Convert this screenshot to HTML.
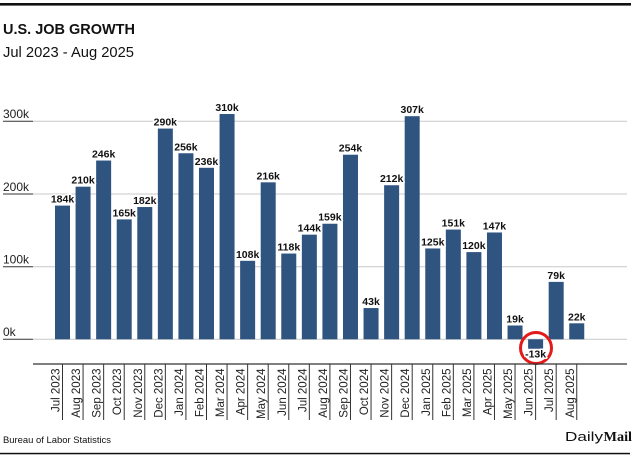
<!DOCTYPE html>
<html><head><meta charset="utf-8"><style>
html,body{margin:0;padding:0;background:#fff;}
svg{display:block;font-family:"Liberation Sans",Arial,sans-serif;}
.v{font-size:10.5px;font-weight:bold;fill:#111;stroke:#fff;stroke-width:3px;paint-order:stroke;stroke-linejoin:round;text-anchor:middle;}
.m{font-size:11.5px;fill:#222;text-anchor:end;}
.y{font-size:12px;fill:#222;}
</style></head><body>
<svg width="634" height="459" viewBox="0 0 634 459" xmlns="http://www.w3.org/2000/svg">
<rect x="0" y="0" width="634" height="459" fill="#fff"/>
<rect x="0" y="3" width="631" height="2.6" fill="#111"/>
<text x="3" y="34" font-size="15" font-weight="bold" fill="#111" textLength="132" lengthAdjust="spacingAndGlyphs">U.S. JOB GROWTH</text>
<text x="3" y="57" font-size="14.5" fill="#111" textLength="131" lengthAdjust="spacingAndGlyphs">Jul 2023 - Aug 2025</text>

<!-- gridlines -->
<g stroke="#c8c8c8" stroke-width="1">
<line x1="33" y1="121.3" x2="627" y2="121.3"/>
<line x1="33" y1="194" x2="627" y2="194"/>
<line x1="33" y1="266.7" x2="627" y2="266.7"/>
<line x1="33" y1="339.3" x2="627" y2="339.3"/>
</g>
<g stroke="#333" stroke-width="1">
<line x1="3" y1="121.3" x2="33" y2="121.3"/>
<line x1="3" y1="194" x2="33" y2="194"/>
<line x1="3" y1="266.7" x2="33" y2="266.7"/>
<line x1="3" y1="339.3" x2="33" y2="339.3"/>
</g>
<text class="y" x="3" y="118">300k</text>
<text class="y" x="3" y="191">200k</text>
<text class="y" x="3" y="263.5">100k</text>
<text class="y" x="3" y="336">0k</text>

<!-- bars -->
<g fill="#2f5480">
<rect x="55.00" y="205.59" width="15" height="133.71"/>
<rect x="75.57" y="186.69" width="15" height="152.61"/>
<rect x="96.14" y="160.53" width="15" height="178.77"/>
<rect x="116.71" y="219.39" width="15" height="119.91"/>
<rect x="137.28" y="207.04" width="15" height="132.26"/>
<rect x="157.85" y="128.56" width="15" height="210.74"/>
<rect x="178.42" y="153.26" width="15" height="186.04"/>
<rect x="198.99" y="167.80" width="15" height="171.50"/>
<rect x="219.56" y="114.02" width="15" height="225.28"/>
<rect x="240.13" y="260.82" width="15" height="78.48"/>
<rect x="260.70" y="182.33" width="15" height="156.97"/>
<rect x="281.27" y="253.55" width="15" height="85.75"/>
<rect x="301.84" y="234.66" width="15" height="104.64"/>
<rect x="322.41" y="223.75" width="15" height="115.55"/>
<rect x="342.98" y="154.72" width="15" height="184.58"/>
<rect x="363.55" y="308.05" width="15" height="31.25"/>
<rect x="384.12" y="185.24" width="15" height="154.06"/>
<rect x="404.69" y="116.20" width="15" height="223.10"/>
<rect x="425.26" y="248.46" width="15" height="90.84"/>
<rect x="445.83" y="229.57" width="15" height="109.73"/>
<rect x="466.40" y="252.10" width="15" height="87.20"/>
<rect x="486.97" y="232.48" width="15" height="106.82"/>
<rect x="507.54" y="325.49" width="15" height="13.81"/>
<rect x="528.11" y="339.30" width="15" height="9.45"/>
<rect x="548.68" y="281.89" width="15" height="57.41"/>
<rect x="569.25" y="323.31" width="15" height="15.99"/>
</g>

<!-- red circle -->
<circle cx="536" cy="348" r="15.5" fill="none" stroke="#e21b1b" stroke-width="3"/>

<!-- value labels -->
<g class="v">
<text x="62.50" y="202.6">184k</text>
<text x="83.07" y="183.7">210k</text>
<text x="103.64" y="157.5">246k</text>
<text x="124.21" y="216.4">165k</text>
<text x="144.78" y="204.0">182k</text>
<text x="165.35" y="125.6">290k</text>
<text x="185.92" y="150.3">256k</text>
<text x="206.49" y="164.8">236k</text>
<text x="227.06" y="111.0">310k</text>
<text x="247.63" y="257.8">108k</text>
<text x="268.20" y="179.3">216k</text>
<text x="288.77" y="250.5">118k</text>
<text x="309.34" y="231.7">144k</text>
<text x="329.91" y="220.7">159k</text>
<text x="350.48" y="151.7">254k</text>
<text x="371.05" y="305.0">43k</text>
<text x="391.62" y="182.2">212k</text>
<text x="412.19" y="113.2">307k</text>
<text x="432.76" y="245.5">125k</text>
<text x="453.33" y="226.6">151k</text>
<text x="473.90" y="249.1">120k</text>
<text x="494.47" y="229.5">147k</text>
<text x="515.04" y="322.5">19k</text>
<text x="535.61" y="357.3">-13k</text>
<text x="556.18" y="278.9">79k</text>
<text x="576.75" y="320.3">22k</text>
</g>

<!-- x axis -->
<line x1="33" y1="364" x2="627" y2="364" stroke="#333" stroke-width="1.3"/>
<g stroke="#333" stroke-width="1">
<line x1="62.5" y1="364" x2="62.5" y2="420"/>
<line x1="83.07" y1="364" x2="83.07" y2="420"/>
<line x1="103.64" y1="364" x2="103.64" y2="420"/>
<line x1="124.21" y1="364" x2="124.21" y2="420"/>
<line x1="144.78" y1="364" x2="144.78" y2="420"/>
<line x1="165.35" y1="364" x2="165.35" y2="420"/>
<line x1="185.92" y1="364" x2="185.92" y2="420"/>
<line x1="206.49" y1="364" x2="206.49" y2="420"/>
<line x1="227.06" y1="364" x2="227.06" y2="420"/>
<line x1="247.63" y1="364" x2="247.63" y2="420"/>
<line x1="268.2" y1="364" x2="268.2" y2="420"/>
<line x1="288.77" y1="364" x2="288.77" y2="420"/>
<line x1="309.34" y1="364" x2="309.34" y2="420"/>
<line x1="329.91" y1="364" x2="329.91" y2="420"/>
<line x1="350.48" y1="364" x2="350.48" y2="420"/>
<line x1="371.05" y1="364" x2="371.05" y2="420"/>
<line x1="391.62" y1="364" x2="391.62" y2="420"/>
<line x1="412.19" y1="364" x2="412.19" y2="420"/>
<line x1="432.76" y1="364" x2="432.76" y2="420"/>
<line x1="453.33" y1="364" x2="453.33" y2="420"/>
<line x1="473.9" y1="364" x2="473.9" y2="420"/>
<line x1="494.47" y1="364" x2="494.47" y2="420"/>
<line x1="515.04" y1="364" x2="515.04" y2="420"/>
<line x1="535.61" y1="364" x2="535.61" y2="420"/>
<line x1="556.18" y1="364" x2="556.18" y2="420"/>
<line x1="576.75" y1="364" x2="576.75" y2="420"/>
</g>
<g class="m">
<text transform="translate(59.5,368.5) rotate(-90)">Jul 2023</text>
<text transform="translate(80.07,368.5) rotate(-90)">Aug 2023</text>
<text transform="translate(100.64,368.5) rotate(-90)">Sep 2023</text>
<text transform="translate(121.21,368.5) rotate(-90)">Oct 2023</text>
<text transform="translate(141.78,368.5) rotate(-90)">Nov 2023</text>
<text transform="translate(162.35,368.5) rotate(-90)">Dec 2023</text>
<text transform="translate(182.92,368.5) rotate(-90)">Jan 2024</text>
<text transform="translate(203.49,368.5) rotate(-90)">Feb 2024</text>
<text transform="translate(224.06,368.5) rotate(-90)">Mar 2024</text>
<text transform="translate(244.63,368.5) rotate(-90)">Apr 2024</text>
<text transform="translate(265.2,368.5) rotate(-90)">May 2024</text>
<text transform="translate(285.77,368.5) rotate(-90)">Jun 2024</text>
<text transform="translate(306.34,368.5) rotate(-90)">Jul 2024</text>
<text transform="translate(326.91,368.5) rotate(-90)">Aug 2024</text>
<text transform="translate(347.48,368.5) rotate(-90)">Sep 2024</text>
<text transform="translate(368.05,368.5) rotate(-90)">Oct 2024</text>
<text transform="translate(388.62,368.5) rotate(-90)">Nov 2024</text>
<text transform="translate(409.19,368.5) rotate(-90)">Dec 2024</text>
<text transform="translate(429.76,368.5) rotate(-90)">Jan 2025</text>
<text transform="translate(450.33,368.5) rotate(-90)">Feb 2025</text>
<text transform="translate(470.9,368.5) rotate(-90)">Mar 2025</text>
<text transform="translate(491.47,368.5) rotate(-90)">Apr 2025</text>
<text transform="translate(512.04,368.5) rotate(-90)">May 2025</text>
<text transform="translate(532.61,368.5) rotate(-90)">Jun 2025</text>
<text transform="translate(553.18,368.5) rotate(-90)">Jul 2025</text>
<text transform="translate(573.75,368.5) rotate(-90)">Aug 2025</text>
</g>

<!-- footer -->
<text x="3" y="443" font-size="9.5" fill="#111" textLength="108" lengthAdjust="spacingAndGlyphs">Bureau of Labor Statistics</text>
<text x="565" y="441" font-size="13" fill="#111" textLength="38" lengthAdjust="spacingAndGlyphs">Daily</text>
<text x="603.5" y="441" font-size="13.5" font-weight="bold" fill="#111" font-family="Liberation Serif, serif" textLength="28.5" lengthAdjust="spacingAndGlyphs">Mail</text>
<rect x="0" y="452.8" width="630" height="1.5" fill="#111"/>
</svg>
</body></html>
